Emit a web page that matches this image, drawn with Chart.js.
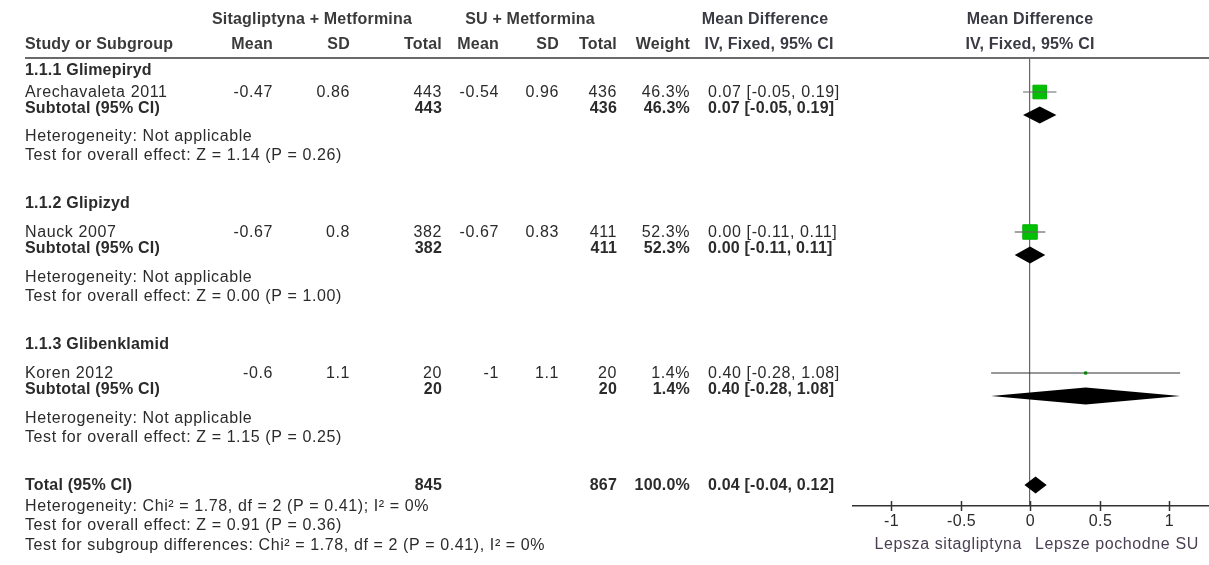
<!DOCTYPE html>
<html>
<head>
<meta charset="utf-8">
<script src="https://cdn.jsdelivr.net/npm/chart.js@4.4.1/dist/chart.umd.min.js"></script>
<style>
  html, body { margin: 0; padding: 0; background: #fff; }
  #wrap { width: 1209px; height: 565px; position: relative; }
</style>
</head>
<body>
<div id="wrap"><canvas id="forestChrt"></canvas></div>
<script>
(function(){

// ---- datos del forest plot
const groupNames = ["1.1.1 Glimepiryd", "1.1.2 Glipizyd", "1.1.3 Glibenklamid"];
const studyNames = ["Arechavaleta 2011", "Nauck 2007", "Koren 2012"];
const sitMean = ["-0.47", "-0.67", "-0.6"];
const sitSD = ["0.86", "0.8", "1.1"];
const sitTotal = [443, 382, 20];
const suMean = ["-0.54", "-0.67", "-1"];
const suSD = ["0.96", "0.83", "1.1"];
const suTotal = [436, 411, 20];
const weights = [46.3, 52.3, 1.4];
const md = [0.07, 0.00, 0.40];
const mdLow = [-0.05, -0.11, -0.28];
const mdHigh = [0.19, 0.11, 1.08];
const effectText = ["Test for overall effect: Z = 1.14 (P = 0.26)",
                    "Test for overall effect: Z = 0.00 (P = 1.00)",
                    "Test for overall effect: Z = 1.15 (P = 0.25)"];
const totalSit = 845;
const totalSu = 867;
const totalMd = 0.04, totalLow = -0.04, totalHigh = 0.12;
const footerText = ["Heterogeneity: Chi\u00b2 = 1.78, df = 2 (P = 0.41); I\u00b2 = 0%",
                    "Test for overall effect: Z = 0.91 (P = 0.36)",
                    "Test for subgroup differences: Chi\u00b2 = 1.78, df = 2 (P = 0.41), I\u00b2 = 0%"];
const xTicks = [-1, -0.5, 0, 0.5, 1];
const xTickLabels = ["-1", "-0.5", "0", "0.5", "1"];
const axisLabels = ["Lepsza sitagliptyna", "Lepsze pochodne SU"];

// ---- filas (en unidades del eje y)
const groupRow = [71, 204, 345];
const studyRow = [93, 233, 374];
const subRow = [109, 249, 390];
const hetRow = [137, 278, 419];
const effRow = [156, 297, 438];
const totalRow = 486;
const footerRow = [507, 526, 546];

const FONT = '"Liberation Sans", Arial, sans-serif';
const txtColor = "#2b2b2b";

function fmtCI(m, l, h){
  return m.toFixed(2) + " [" + l.toFixed(2) + ", " + h.toFixed(2) + "]";
}

function txt(ctx, s, x, y, align, bold, color){
  ctx.font = (bold ? "bold " : "") + "16px " + FONT;
  ctx.letterSpacing = bold ? "0.2px" : "0.6px";
  ctx.textAlign = align || "left";
  ctx.textBaseline = "middle";
  ctx.fillStyle = color || txtColor;
  ctx.fillText(s, x, y);
}

// ---- plugin: tabla de texto, linea del encabezado y rombos
const tablePlugin = {
  id: "tabla",
  afterDraw(chart){
    const ctx = chart.ctx;
    const y = chart.scales.y;
    const x = chart.scales.x;
    const x0 = x.getPixelForValue(0);
    ctx.save();

    // encabezados
    txt(ctx, "Sitagliptyna + Metformina", 312, 20, "center", true, "#3a3a3a");
    txt(ctx, "SU + Metformina", 530, 20, "center", true, "#3a3a3a");
    txt(ctx, "Mean Difference", 765, 20, "center", true, "#3a3a44");
    txt(ctx, "Mean Difference", x0, 20, "center", true, "#3a3a44");
    txt(ctx, "Study or Subgroup", 25, 45, "left", true, "#3a3a3a");
    txt(ctx, "Mean", 273, 45, "right", true, "#3a3a3a");
    txt(ctx, "SD", 350, 45, "right", true, "#3a3a3a");
    txt(ctx, "Total", 442, 45, "right", true, "#3a3a3a");
    txt(ctx, "Mean", 499, 45, "right", true, "#3a3a3a");
    txt(ctx, "SD", 559, 45, "right", true, "#3a3a3a");
    txt(ctx, "Total", 617, 45, "right", true, "#3a3a3a");
    txt(ctx, "Weight", 690, 45, "right", true, "#3a3a3a");
    txt(ctx, "IV, Fixed, 95% CI", 769, 45, "center", true, "#3a3a44");
    txt(ctx, "IV, Fixed, 95% CI", x0, 45, "center", true, "#3a3a44");

    ctx.strokeStyle = "#6a6a6a";
    ctx.lineWidth = 2;
    ctx.beginPath();
    ctx.moveTo(25, 58);
    ctx.lineTo(chart.width, 58);
    ctx.stroke();

    for (let i = 0; i < studyNames.length; i++) {
      const ys = y.getPixelForValue(studyRow[i]);
      const yb = y.getPixelForValue(subRow[i]);
      txt(ctx, groupNames[i], 25, y.getPixelForValue(groupRow[i]), "left", true);
      txt(ctx, studyNames[i], 25, ys, "left");
      txt(ctx, sitMean[i], 273, ys, "right");
      txt(ctx, sitSD[i], 350, ys, "right");
      txt(ctx, String(sitTotal[i]), 442, ys, "right");
      txt(ctx, suMean[i], 499, ys, "right");
      txt(ctx, suSD[i], 559, ys, "right");
      txt(ctx, String(suTotal[i]), 617, ys, "right");
      txt(ctx, weights[i].toFixed(1) + "%", 690, ys, "right");
      txt(ctx, fmtCI(md[i], mdLow[i], mdHigh[i]), 708, ys, "left");

      txt(ctx, "Subtotal (95% CI)", 25, yb, "left", true);
      txt(ctx, String(sitTotal[i]), 442, yb, "right", true);
      txt(ctx, String(suTotal[i]), 617, yb, "right", true);
      txt(ctx, weights[i].toFixed(1) + "%", 690, yb, "right", true);
      txt(ctx, fmtCI(md[i], mdLow[i], mdHigh[i]), 708, yb, "left", true);

      txt(ctx, "Heterogeneity: Not applicable", 25, y.getPixelForValue(hetRow[i]), "left");
      txt(ctx, effectText[i], 25, y.getPixelForValue(effRow[i]), "left");
    }

    const yt = y.getPixelForValue(totalRow);
    txt(ctx, "Total (95% CI)", 25, yt, "left", true);
    txt(ctx, String(totalSit), 442, yt, "right", true);
    txt(ctx, String(totalSu), 617, yt, "right", true);
    txt(ctx, "100.0%", 690, yt, "right", true);
    txt(ctx, fmtCI(totalMd, totalLow, totalHigh), 708, yt, "left", true);
    footerText.forEach((s, k) => {
      txt(ctx, s, 25, footerRow[k], "left");
    });

    // marcas y etiquetas de las divisiones
    ctx.strokeStyle = "#333";
    ctx.lineWidth = 1.5;
    xTicks.forEach((v, k) => {
      const px = Math.round(x.getPixelForValue(v)) + 0.5;
      ctx.beginPath();
      ctx.moveTo(px, x.top - 5);
      ctx.lineTo(px, x.top + 5);
      ctx.stroke();
      ctx.font = "16px " + FONT;
      ctx.letterSpacing = "0.4px";
      ctx.textAlign = "center";
      ctx.textBaseline = "middle";
      ctx.fillStyle = "#2b2b2b";
      ctx.fillText(xTickLabels[k], px, x.top + 16);
    });

    // etiquetas bajo el eje
    txt(ctx, axisLabels[0], x0 - 8, 545, "right", false, "#4a3f52");
    txt(ctx, axisLabels[1], x0 + 5, 545, "left", false, "#4a3f52");

    // rombos de subtotales y total
    const diamonds = [];
    for (let i = 0; i < md.length; i++) diamonds.push([md[i], mdLow[i], mdHigh[i], subRow[i] + 6]);
    diamonds.push([totalMd, totalLow, totalHigh, totalRow - 1]);
    ctx.fillStyle = "#000";
    diamonds.forEach(d => {
      const cy = y.getPixelForValue(d[3]);
      ctx.beginPath();
      ctx.moveTo(x.getPixelForValue(d[1]), cy);
      ctx.lineTo(x.getPixelForValue(d[0]), cy - 8.5);
      ctx.lineTo(x.getPixelForValue(d[2]), cy);
      ctx.lineTo(x.getPixelForValue(d[0]), cy + 8.5);
      ctx.closePath();
      ctx.fill();
    });

    ctx.restore();
  }
};

// ---- datasets
const datasets = [];
for (let i = 0; i < md.length; i++) {
  datasets.push({
    label: studyNames[i] + " CI",
    data: [{x: mdLow[i], y: studyRow[i] - 1}, {x: mdHigh[i], y: studyRow[i] - 1}],
    showLine: true,
    borderColor: i == 2 ? "#333" : "#666",
    borderWidth: 1.2,
    pointRadius: 0
  });
}
datasets.push({
  label: "MD",
  data: md.map((v, i) => ({x: v, y: studyRow[i] - 1})),
  pointStyle: "rect",
  pointRadius: ctx => Math.sqrt(weights[ctx.dataIndex]) * 1.414,
  backgroundColor: "#00c000",
  borderColor: "#00b000",
  borderWidth: 1
});

const ctx = document.querySelector("#forestChrt");

let myChart = new Chart(ctx, {
  type: "scatter",
  data: { datasets: datasets },
  options: {
    responsive: true,
    maintainAspectRatio: false,
    animation: false,
    layout: { autoPadding: false, padding: { left: 853, right: 0, top: 58, bottom: 0 } },
    plugins: { legend: { display: false }, tooltip: { enabled: false } },
    scales: {
      x: {
        type: "linear",
        min: -1.2736,
        max: 1.2878,
        afterBuildTicks: axis => { axis.ticks = xTicks.map(v => ({value: v})); },
        afterFit: axis => {
          axis.height = 59;
          axis.paddingLeft = 0;
          axis.paddingRight = 0;
        },
        border: { display: true, color: "#333", width: 1.5 },
        grid: {
          drawOnChartArea: true,
          drawTicks: false,
          color: c => (c.tick && c.tick.value === 0) ? "#666" : "rgba(0,0,0,0)",
          lineWidth: 1.2
        },
        ticks: { display: false }
      },
      y: {
        type: "linear",
        min: 58,
        max: 506,
        reverse: true,
        display: false
      }
    }
  },
  plugins: [tablePlugin]
});

})();
</script>
</body>
</html>
